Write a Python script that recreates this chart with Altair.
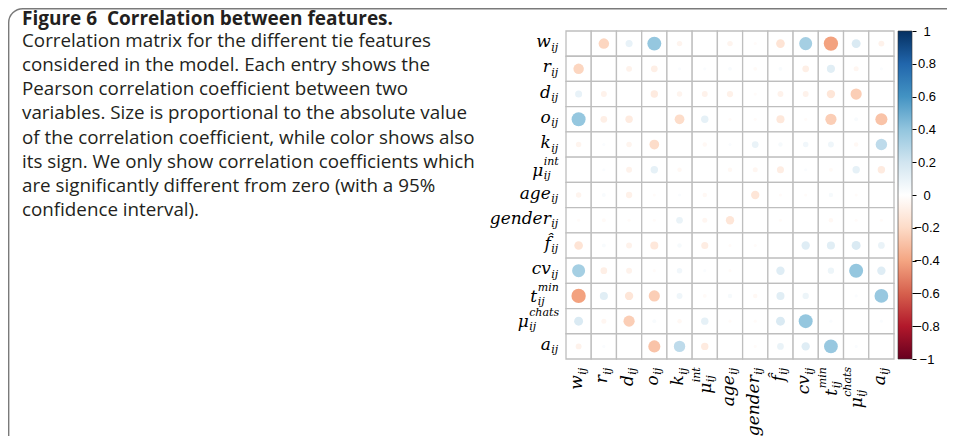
import altair as alt
import pandas as pd

# ---------------- data ----------------
keys = ["w", "r", "d", "o", "k", "mu_int", "age", "gender", "f_hat", "cv", "t_min", "mu_chats", "a"]
base_txt = ["w", "r", "d", "o", "k", "μ", "age", "gender", "f̂", "cv", "t", "μ", "a"]
sup_txt = ["", "", "", "", "", "int", "", "", "", "", "min", "chats", ""]

# lower triangle of the correlation matrix (row i, columns 0..i-1); None = not significant
lower = [
    [-0.22],                                                                  # r
    [0.10, -0.07],                                                            # d
    [0.39, -0.09, -0.11],                                                     # o
    [-0.06, 0.02, -0.06, -0.19],                                              # k
    [None, 0.02, -0.07, 0.11, -0.04],                                         # mu_int
    [-0.06, 0.03, -0.08, -0.02, 0.02, -0.04],                                 # age
    [-0.02, -0.03, -0.02, -0.02, 0.09, -0.05, -0.14],                         # gender
    [-0.15, 0.03, -0.07, -0.13, 0.04, -0.10, -0.02, -0.02],                   # f_hat
    [0.34, -0.09, -0.07, -0.02, 0.06, 0.02, -0.02, None, 0.14],               # cv
    [-0.41, 0.13, -0.14, -0.25, 0.07, -0.03, 0.04, -0.04, 0.13, 0.08],        # t_min
    [0.16, -0.05, -0.25, 0.03, -0.04, 0.11, -0.02, -0.02, 0.16, 0.39, 0.02],  # mu_chats
    [-0.07, 0.02, None, -0.29, 0.26, -0.11, None, -0.02, 0.09, 0.14, 0.38, 0.02],  # a
]

cb_ticks = [-1, -0.8, -0.6, -0.4, -0.2, 0, 0.2, 0.4, 0.6, 0.8, 1]
cb_colors = ["#67001F", "#B2182B", "#D6604D", "#F4A582", "#FDDBC7", "#FFFFFF",
             "#D1E5F0", "#92C5DE", "#4393C3", "#2166AC", "#053061"]

title_txt = "Figure 6\u00a0 Correlation between features."
body_lines = [
    "Correlation matrix for the different tie features",
    "considered in the model. Each entry shows the",
    "Pearson correlation coefficient between two",
    "variables. Size is proportional to the absolute value",
    "of the correlation coefficient, while color shows also",
    "its sign. We only show correlation coefficients which",
    "are significantly different from zero (with a 95%",
    "confidence interval).",
]

# ---------------- tables ----------------
n = len(keys)
rows = []
for i in range(n):
    for j in range(n):
        if i == j:
            v = None
        elif j < i:
            v = lower[i - 1][j]
        else:
            v = lower[j - 1][i]
        rows.append({"row": keys[i], "col": keys[j], "value": v})
cells = pd.DataFrame(rows)
circ = cells.dropna().reset_index(drop=True)
lab = pd.DataFrame({"key": keys, "base": base_txt, "sup": sup_txt})
one = pd.DataFrame({"z": [0]})

W = H = 328
SERIF = "DejaVu Serif"
SANS = "Open Sans"
MAIN_FS = 17
SCR_FS = 11

xs = alt.Scale(type="band", domain=keys, paddingInner=0, paddingOuter=0)
ys = alt.Scale(type="band", domain=keys, paddingInner=0, paddingOuter=0)
cscale = alt.Scale(type="linear", domain=cb_ticks, range=cb_colors, interpolate="rgb")

box = alt.Chart(one).mark_rect(cornerRadius=14, fillOpacity=0, stroke="#7a7a7a", strokeWidth=1.4).encode(
    x=alt.value(-557.3), y=alt.value(-22.3), x2=alt.value(3000), y2=alt.value(3000)
)

cap_title = alt.Chart(one).mark_text(
    align="left", baseline="alphabetic", font=SANS, fontSize=19, fontWeight="bold", color="#231f20"
).encode(x=alt.value(-544), y=alt.value(-6.5), text=alt.value(title_txt))

cap_body = alt.Chart(one).mark_text(
    align="left", baseline="alphabetic", font=SANS, fontSize=18.8, lineHeight=24.25, color="#231f20"
).encode(x=alt.value(-544), y=alt.value(15.5), text=alt.value(body_lines))

grid = alt.Chart(cells).mark_rect(fill="white", stroke="#bebebe", strokeWidth=1.3).encode(
    x=alt.X("col:N", scale=xs, axis=None),
    y=alt.Y("row:N", scale=ys, axis=None),
)

circles = alt.Chart(circ).transform_calculate(mag="abs(datum.value)").mark_circle(opacity=1).encode(
    x=alt.X("col:N", scale=xs, axis=None),
    y=alt.Y("row:N", scale=ys, axis=None),
    size=alt.Size("mag:Q", scale=alt.Scale(type="linear", domain=[0, 1], range=[0, 500]), legend=None),
    color=alt.Color("value:Q", scale=cscale, legend=None),
)

# label groups by width of the script block (layout constants)
script_groups = [("", 7.7), ("int", 15.3), ("min", 21.3), ("chats", 29.8)]
label_layers = []
for s, wg in script_groups:
    d = lab[lab["sup"] == s]
    has = s != ""
    mdy = 6 if has else 3.5
    sdy = 9 if has else 7
    c = alt.Chart(d)
    ty = dict(font=SERIF, fontStyle="italic", baseline="alphabetic", color="black")
    # y-axis labels
    yenc = alt.Y("key:N", scale=ys, axis=None)
    label_layers.append(c.mark_text(align="right", fontSize=MAIN_FS, dy=mdy, **ty).encode(
        x=alt.value(-7 - wg - 0.5), y=yenc, text="base:N"))
    label_layers.append(c.mark_text(align="left", fontSize=SCR_FS, dy=sdy, **ty).encode(
        x=alt.value(-7 - wg), y=yenc, text=alt.value("ij")))
    if has:
        label_layers.append(c.mark_text(align="left", fontSize=SCR_FS, dy=-5, **ty).encode(
            x=alt.value(-7 - wg), y=yenc, text="sup:N"))
    # x-axis labels (rotated)
    xenc = alt.X("key:N", scale=xs, axis=None)
    label_layers.append(c.mark_text(align="right", angle=270, fontSize=MAIN_FS, dy=mdy, **ty).encode(
        x=xenc, y=alt.value(H + 8 + wg + 0.5), text="base:N"))
    label_layers.append(c.mark_text(align="left", angle=270, fontSize=SCR_FS, dy=sdy, **ty).encode(
        x=xenc, y=alt.value(H + 8 + wg), text=alt.value("ij")))
    if has:
        label_layers.append(c.mark_text(align="left", angle=270, fontSize=SCR_FS, dy=-5, **ty).encode(
            x=xenc, y=alt.value(H + 8 + wg), text="sup:N"))

inner = alt.layer(box, cap_title, cap_body, grid, circles, *label_layers)

gradient = {
    "gradient": "linear", "x1": 0, "y1": 1, "x2": 0, "y2": 0,
    "stops": [{"offset": i / (len(cb_colors) - 1), "color": col} for i, col in enumerate(cb_colors)],
}
colorbar = alt.Chart(pd.DataFrame({"lo": [cb_ticks[0]], "hi": [cb_ticks[-1]]})).mark_rect(
    fill=gradient, stroke="#333333", strokeWidth=0.6
).encode(
    x=alt.value(332), x2=alt.value(346),
    y=alt.Y("lo:Q", scale=alt.Scale(domain=[-1, 1], nice=False, zero=False),
            axis=alt.Axis(orient="right", offset=18, values=cb_ticks, format="~g", domain=False,
                          ticks=True, tickSize=4, tickColor="black", tickWidth=1, grid=False,
                          labelFont="Liberation Sans", labelFontSize=13, labelColor="black",
                          labelAlign="center", labelPadding=10.5, labelFlush=False,
                          labelOverlap=False, title=None, zindex=2)),
    y2="hi:Q",
)

chart = alt.layer(inner, colorbar).resolve_scale(y="independent").properties(
    width=W, height=H,
    autosize=alt.AutoSizeParams(type="none"),
    padding={"left": 558, "top": 23, "right": 53, "bottom": 77},
    background="white",
).configure_view(stroke=None)

chart.save("out.html", embed_options={"renderer": "svg", "actions": False})
